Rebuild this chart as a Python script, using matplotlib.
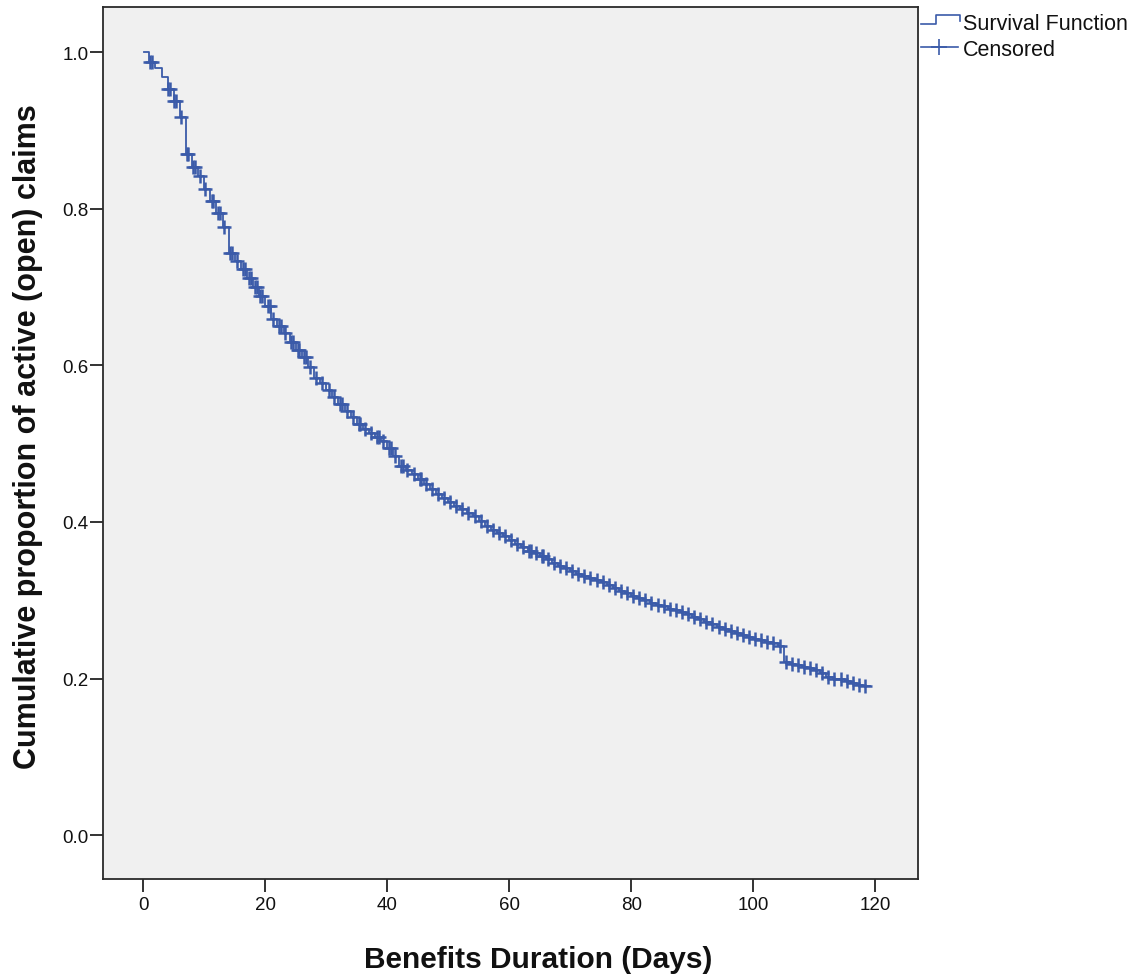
import matplotlib
matplotlib.use("Agg")
import matplotlib.pyplot as plt
from matplotlib.lines import Line2D
import numpy as np

# ---- data ----
days = list(range(0, 119))
survival = [
    1.000, 0.987, 0.979, 0.968, 0.953, 0.938, 0.917, 0.870, 0.853, 0.842,
    0.825, 0.810, 0.795, 0.777, 0.744, 0.733, 0.723, 0.712, 0.700, 0.689,
    0.676, 0.659, 0.650, 0.641, 0.630, 0.620, 0.610, 0.598, 0.584, 0.577,
    0.569, 0.560, 0.551, 0.542, 0.534, 0.525, 0.519, 0.514, 0.509, 0.503,
    0.494, 0.484, 0.472, 0.466, 0.461, 0.455, 0.449, 0.442, 0.436, 0.430,
    0.425, 0.420, 0.416, 0.412, 0.407, 0.401, 0.395, 0.390, 0.386, 0.382,
    0.377, 0.372, 0.368, 0.363, 0.360, 0.357, 0.353, 0.348, 0.344, 0.341,
    0.337, 0.334, 0.331, 0.328, 0.326, 0.323, 0.319, 0.315, 0.312, 0.309,
    0.306, 0.303, 0.300, 0.297, 0.294, 0.292, 0.289, 0.287, 0.285, 0.282,
    0.279, 0.276, 0.272, 0.269, 0.266, 0.263, 0.261, 0.258, 0.256, 0.253,
    0.251, 0.249, 0.247, 0.245, 0.242, 0.221, 0.219, 0.217, 0.215, 0.213,
    0.211, 0.207, 0.202, 0.200, 0.199, 0.197, 0.194, 0.192, 0.190,
]
start_day = 0.2
end_day = 119.1
# censoring times (days)
censored_times = [
    1.1, 1.4, 4.1, 4.4, 5.1, 5.4, 6.2, 7.1, 7.4, 8.2, 8.5, 9.3, 10.2, 11.2, 11.5,
    12.2, 12.5, 13.3, 14.2, 14.5, 15.3, 16.3, 16.6, 17.3, 17.6, 18.3, 18.6,
    19.2, 19.5, 20.4, 20.7, 21.3, 22.3, 22.6, 23.3, 24.3, 24.6, 25.3, 25.6,
    26.3, 26.6, 27.3, 28.3, 29.3, 30.4, 31.3, 32.3, 32.6, 33.4, 34.3, 35.3,
    35.6, 36.3, 37.3, 38.3, 38.6, 39.3, 40.3, 40.6, 41.3, 42.3, 42.6, 43.3,
    44.3, 45.3, 45.6, 46.3, 47.3, 48.3, 49.3, 50.3, 51.3, 52.3, 53.3, 54.3,
    55.3, 56.3, 57.3, 58.3, 59.3, 60.3, 61.3, 62.3, 63.3, 63.6, 64.3, 65.3,
    65.6, 66.3, 67.3, 68.3, 69.3, 70.3, 71.3, 72.3, 73.3, 74.3, 75.3, 76.3,
    77.3, 78.3, 79.3, 80.3, 81.3, 82.3, 83.3, 84.3, 85.3, 86.3, 87.3, 88.3,
    89.3, 90.3, 91.3, 92.3, 93.3, 94.3, 95.3, 96.3, 97.3, 98.3, 99.3, 100.3,
    101.3, 102.3, 103.3, 104.3, 105.3, 106.3, 107.3, 108.3, 109.3, 110.3,
    111.3, 112.3, 113.3, 114.3, 115.3, 116.3, 117.3, 118.3,
]
x_ticks = [0, 20, 40, 60, 80, 100, 120]
y_ticks = [0.0, 0.2, 0.4, 0.6, 0.8, 1.0]
x_label = "Benefits Duration (Days)"
y_label = "Cumulative proportion of active (open) claims"
legend_labels = ["Survival Function", "Censored"]

# ---- style ----
line_color = "#3b5ba9"
plot_bg = "#f0f0f0"
label_font = ["Liberation Sans Narrow", "Liberation Sans", "DejaVu Sans"]
tick_font = ["Liberation Sans", "DejaVu Sans"]

W, H = 1142, 978
fig = plt.figure(figsize=(W / 100, H / 100), dpi=100)
fig.patch.set_facecolor("white")
ax = fig.add_axes([103 / W, 1 - 880 / H, (918 - 103) / W, (880 - 8) / H])
ax.set_facecolor(plot_bg)

# step function
xs = [start_day] + days[1:] + [end_day]
ys = survival + [survival[-1]]
ax.step(xs, ys, where="post", color=line_color, lw=1.3, zorder=3)

# censor marks
cy = [survival[int(np.floor(t))] for t in censored_times]
ax.plot(censored_times, cy, linestyle="none", marker="+", markersize=10.5,
        markeredgewidth=1.8, color=line_color, zorder=4)

ax.set_xlim(-6.6, 127)
ax.set_ylim(-0.056, 1.0575)
ax.set_xticks(x_ticks)
ax.set_xticklabels([str(v) for v in x_ticks], family=tick_font, fontsize=13.5)
ax.set_yticks(y_ticks)
ax.set_yticklabels([f"{v:.1f}" for v in y_ticks], family=tick_font, fontsize=13.5)
ax.tick_params(axis="both", direction="out", length=9.5, width=1.2,
               color="#111111", labelcolor="#111111")
ax.tick_params(axis="x", pad=3)
ax.tick_params(axis="y", pad=1)
for s in ax.spines.values():
    s.set_color("#2a2a2a")
    s.set_linewidth(1.3)

fig.text(538 / W, 1 - 960 / H, x_label, ha="center", va="center",
         family=label_font, fontweight="bold", fontsize=21.5, color="#111111")
fig.text(28 / W, 1 - 437 / H, y_label, ha="center", va="center", rotation=90,
         family=label_font, fontweight="bold", fontsize=22, color="#111111")

# legend (manual, outside right)
def px(x, y):
    return x / W, 1 - y / H

lx = [921, 936, 936, 960, 960]
ly = [25, 25, 16, 16, 22]
fx, fy = zip(*[px(a, b) for a, b in zip(lx, ly)])
fig.add_artist(Line2D(fx, fy, color=line_color, lw=1.2))
fx2, fy2 = zip(*[px(a, b) for a, b in [(921, 48), (958, 48)]])
fig.add_artist(Line2D(fx2, fy2, color=line_color, lw=1.2))
mx, my = px(939, 48)
fig.add_artist(Line2D([mx], [my], marker="+", markersize=11,
                      markeredgewidth=1.2, color=line_color, linestyle="none"))
tx, ty = px(963, 25)
fig.text(tx, ty, legend_labels[0], ha="left", va="center", family=tick_font,
         fontsize=15.5, color="#111111")
tx, ty = px(963, 51)
fig.text(tx, ty, legend_labels[1], ha="left", va="center", family=tick_font,
         fontsize=15.5, color="#111111")

fig.savefig("out.png", dpi=100, facecolor="white")
